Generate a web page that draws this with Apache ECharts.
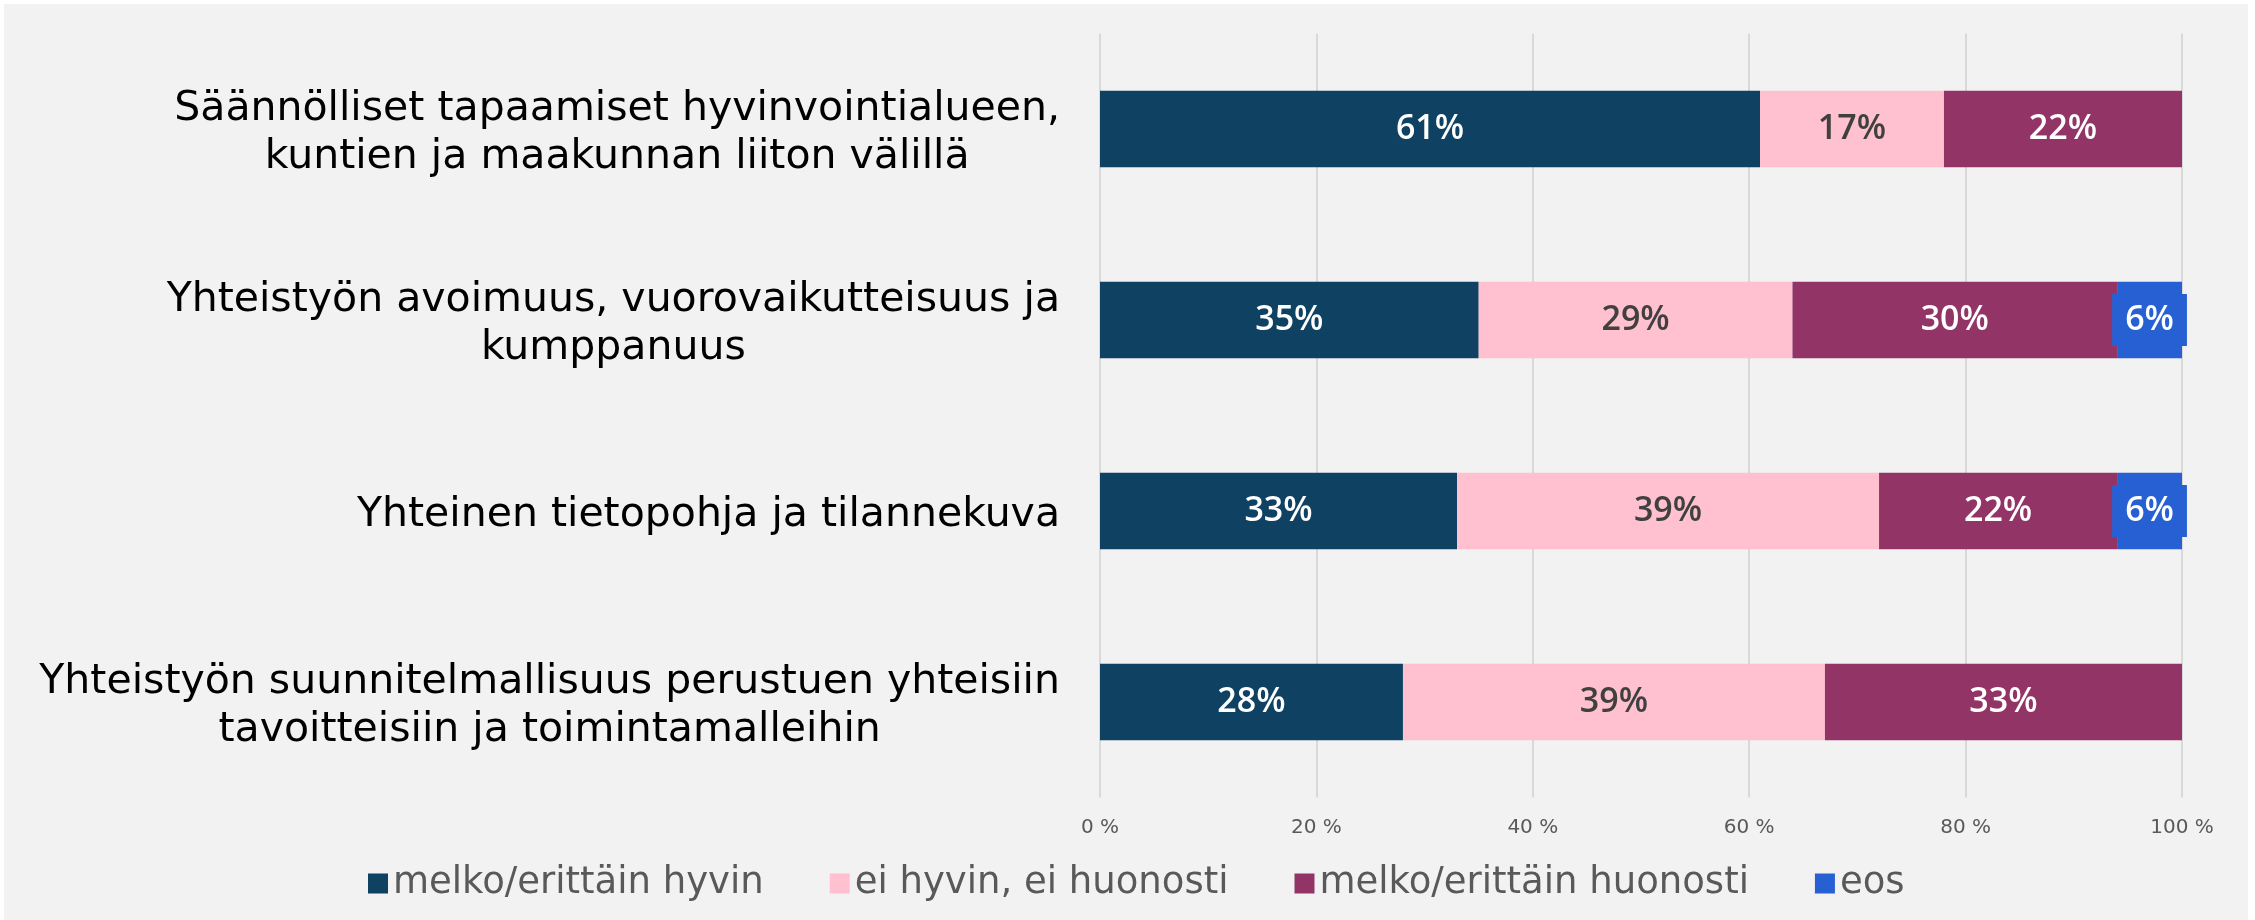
<!DOCTYPE html>
<html>
<head>
<meta charset="utf-8">
<script src="https://cdn.jsdelivr.net/npm/echarts@6/dist/echarts.min.js"></script>
<style>
  html, body { margin: 0; padding: 0; background: #ffffff; width: 2255px; height: 920px; overflow: hidden; }
  #chart { position: absolute; left: 4px; top: 4px; width: 2244px; height: 916px; }
</style>
</head>
<body>
<div id="chart"></div>
<script>
const categories = [
  'Säännölliset tapaamiset hyvinvointialueen,\nkuntien ja maakunnan liiton välillä',
  'Yhteistyön avoimuus, vuorovaikutteisuus ja\nkumppanuus',
  'Yhteinen tietopohja ja tilannekuva',
  'Yhteistyön suunnitelmallisuus perustuen yhteisiin\ntavoitteisiin ja toimintamalleihin'
];
const seriesNames = ['melko/erittäin hyvin', 'ei hyvin, ei huonosti', 'melko/erittäin huonosti', 'eos'];
const valHyvin = [61, 35, 33, 28];
const valNeutral = [17, 29, 39, 39];
const valHuonosti = [22, 30, 22, 33];
const valEos = [null, 6, 6, null];
const xTicks = { min: 0, max: 100, interval: 20 };

const colors = ['#0f4163', '#ffc0cf', '#933466', '#2660d2'];
const labelColors = ['#ffffff', '#404040', '#ffffff', '#ffffff'];
const allValues = [valHyvin, valNeutral, valHuonosti, valEos];

const chart = echarts.init(document.getElementById('chart'));

const series = seriesNames.map((name, i) => {
  const label = {
    show: true,
    position: 'inside',
    formatter: '{c}%',
    color: labelColors[i],
    fontFamily: 'Open Sans',
    fontWeight: 600,
    fontSize: 34
  };
  if (i === 3) {
    label.backgroundColor = colors[3];
    label.padding = [8, 13, 8, 13];
    label.lineHeight = 36;
  }
  return {
    name: name,
    type: 'bar',
    stack: 'total',
    barWidth: '40%',
    itemStyle: { color: colors[i] },
    label: label,
    emphasis: { disabled: true },
    data: allValues[i]
  };
});

chart.setOption({
  backgroundColor: '#f2f2f2',
  animation: false,
  color: colors,
  grid: { left: 1096, right: 66, top: 29.5, bottom: 122.5, containLabel: false },
  legend: {
    data: seriesNames,
    left: 359,
    top: 856,
    itemWidth: 20,
    itemHeight: 20,
    itemGap: 66,
    icon: 'rect',
    textStyle: { fontFamily: 'DejaVu Sans', fontSize: 37, color: '#595959' }
  },
  xAxis: {
    type: 'value',
    min: xTicks.min,
    max: xTicks.max,
    interval: xTicks.interval,
    axisLine: { show: false },
    axisTick: { show: false },
    splitLine: { show: true, lineStyle: { color: '#d9d9d9', width: 2 } },
    axisLabel: {
      formatter: '{value} %',
      margin: 20,
      fontFamily: 'DejaVu Sans',
      fontSize: 20,
      color: '#595959'
    }
  },
  yAxis: {
    type: 'category',
    inverse: true,
    data: categories,
    axisLine: { show: false },
    axisTick: { show: false },
    axisLabel: {
      margin: 40,
      align: 'right',
      padding: [8, 0, 0, 0],
      formatter: function (v) {
        return v.split('\n').map(l => '{c|' + l + '}').join('\n');
      },
      rich: {
        c: {
          align: 'center',
          fontFamily: 'DejaVu Sans',
          fontSize: 41,
          lineHeight: 48,
          color: '#000000'
        }
      }
    }
  },
  series: series
});
</script>
</body>
</html>
